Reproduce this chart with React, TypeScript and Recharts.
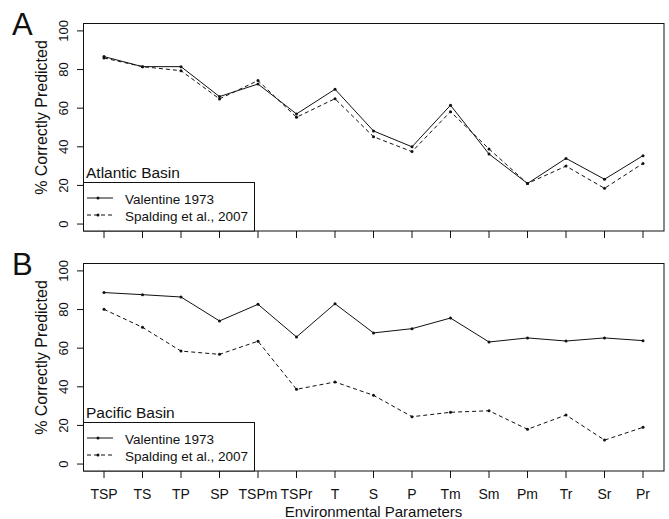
import React from 'react';
import { LineChart, Line, XAxis, YAxis } from 'recharts';

// Parameter combinations along the x axis
const CATEGORIES = ['TSP', 'TS', 'TP', 'SP', 'TSPm', 'TSPr', 'T', 'S', 'P', 'Tm', 'Sm', 'Pm', 'Tr', 'Sr', 'Pr'];

// Panel A: Atlantic basin
const ATL_VALENTINE = [86.7, 81.5, 81.5, 66, 72.5, 57, 69.8, 48.2, 40, 61.5, 36.3, 21, 34, 23.2, 35.4];
const ATL_SPALDING = [86, 81.5, 79.4, 64.8, 74.3, 55.3, 64.9, 45.2, 37.5, 58.2, 38.9, 21, 30, 18.5, 31.4];

// Panel B: Pacific basin
const PAC_VALENTINE = [88.8, 87.7, 86.5, 74.1, 82.7, 65.8, 83, 67.9, 70.1, 75.6, 63.2, 65.3, 63.7, 65.3, 63.9];
const PAC_SPALDING = [80.1, 70.8, 58.5, 56.8, 63.6, 38.7, 42.5, 35.6, 24.5, 26.8, 27.6, 18, 25.4, 12.4, 19];

const Y_TICKS = [0, 20, 40, 60, 80, 100];
const SERIES_NAMES = ['Valentine 1973', 'Spalding et al., 2007'];

const FONT = '"Liberation Sans", Arial, Helvetica, sans-serif';
const INK = '#111';

const EmptyTick = () => <g />;

const XTick = ({ x, y, payload }: any) => (
  <text x={x} y={y + 19} textAnchor="middle" fontSize={14} fontFamily={FONT} fill={INK}>
    {payload.value}
  </text>
);

const YTick = ({ x, y, payload }: any) => (
  <text
    x={x - 7}
    y={y}
    transform={`rotate(-90, ${x - 7}, ${y})`}
    textAnchor="middle"
    fontSize={13}
    fontFamily={FONT}
    fill={INK}
  >
    {payload.value}
  </text>
);

const YTitle = ({ viewBox }: any) => {
  const cy = viewBox.y + viewBox.height / 2 - 9.5;
  return (
    <text x={47} y={cy} transform={`rotate(-90, 47, ${cy})`} textAnchor="middle" fontSize={16} fontFamily={FONT} fill={INK}>
      % Correctly Predicted
    </text>
  );
};

const XTitle = ({ viewBox }: any) => (
  <text x={viewBox.x + viewBox.width / 2} y={viewBox.y + 46} textAnchor="middle" fontSize={15} fontFamily={FONT} fill={INK}>
    Environmental Parameters
  </text>
);

interface PanelProps {
  letter: string;
  basin: string;
  valentine: number[];
  spalding: number[];
  showX: boolean;
  top: number;
  height: number;
}

function Panel({ letter, basin, valentine, spalding, showX, top, height }: PanelProps) {
  const data = CATEGORIES.map((name, i) => ({ name, valentine: valentine[i], spalding: spalding[i] }));

  return (
    <div style={{ position: 'absolute', left: 0, top, width: 669, height }}>
      <LineChart width={669} height={height} data={data} margin={{ top: 23, right: 5, bottom: 0, left: 0 }}>
        <XAxis
          dataKey="name"
          padding={{ left: 21, right: 21 }}
          axisLine={false}
          tickSize={7}
          tickLine={{ stroke: INK }}
          height={showX ? 48 : 9}
          interval={0}
          tick={showX ? XTick : EmptyTick}
          label={showX ? { content: XTitle } : undefined}
        />
        <YAxis
          width={83}
          domain={[-3.6, 104.1]}
          ticks={Y_TICKS}
          allowDataOverflow
          axisLine={false}
          tickSize={6}
          tickLine={{ stroke: INK }}
          tick={YTick}
          label={{ content: YTitle }}
        />
        <Line
          dataKey="valentine"
          name={SERIES_NAMES[0]}
          stroke={INK}
          strokeWidth={1}
          dot={{ r: 1.5, fill: INK, stroke: 'none' }}
          isAnimationActive={false}
        />
        <Line
          dataKey="spalding"
          name={SERIES_NAMES[1]}
          stroke={INK}
          strokeWidth={1}
          strokeDasharray="4 3"
          dot={{ r: 1.5, fill: INK, stroke: 'none' }}
          isAnimationActive={false}
        />
      </LineChart>

      {/* frame, panel letter, basin name, legend box */}
      <svg width={669} height={height} style={{ position: 'absolute', left: 0, top: 0, pointerEvents: 'none' }}>
        <rect x={83.5} y={23.5} width={580.5} height={207.5} fill="none" stroke={INK} strokeWidth={1} />
        <text x={12} y={35} fontSize={31} fontFamily={FONT} fill={INK}>{letter}</text>
        <text x={86} y={178} fontSize={15.5} fontFamily={FONT} fill={INK}>{basin}</text>
        <rect x={83.5} y={182.5} width={171} height={48.5} fill="#fff" stroke={INK} strokeWidth={1} />
        <line x1={87} x2={113} y1={198} y2={198} stroke={INK} strokeWidth={1} />
        <circle cx={98} cy={198} r={1.5} fill={INK} />
        <line x1={87} x2={113} y1={215} y2={215} stroke={INK} strokeWidth={1} strokeDasharray="4 3" />
        <circle cx={98} cy={215} r={1.5} fill={INK} />
        <text x={125} y={204} fontSize={13.5} fontFamily={FONT} fill={INK}>{SERIES_NAMES[0]}</text>
        <text x={125} y={221} fontSize={13.5} fontFamily={FONT} fill={INK}>{SERIES_NAMES[1]}</text>
      </svg>
    </div>
  );
}

export default function App() {
  return (
    <div style={{ position: 'absolute', left: 0, top: 0, width: 669, height: 519, background: '#fff', fontFamily: FONT }}>
      <Panel letter="A" basin="Atlantic Basin" valentine={ATL_VALENTINE} spalding={ATL_SPALDING} showX={false} top={0} height={240} />
      <Panel letter="B" basin="Pacific Basin" valentine={PAC_VALENTINE} spalding={PAC_SPALDING} showX top={240} height={279} />
    </div>
  );
}
